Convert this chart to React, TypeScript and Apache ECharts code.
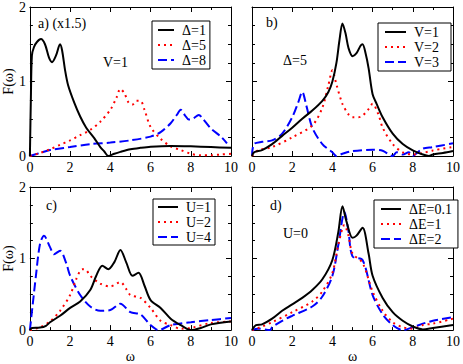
import React, { useEffect, useRef } from "react";
import * as echarts from "echarts";

type P = [number, number];

// Panel a (V=1)
const aDelta1: P[] = [[0,0],[0.05,0.8],[0.1,1.35],[0.2,1.46],[0.35,1.53],[0.55,1.57],[0.75,1.5],[0.95,1.32],[1.1,1.26],[1.3,1.35],[1.5,1.5],[1.6,1.42],[1.75,1.15],[1.9,0.95],[2.2,0.72],[2.5,0.53],[2.8,0.38],[3.2,0.24],[3.5,0.12],[3.7,0.06],[3.9,0],[4.2,0.03],[4.5,0.055],[5,0.09],[5.5,0.11],[6,0.125],[7,0.135],[8,0.13],[9,0.12],[10,0.11]];
const aDelta5: P[] = [[0,0],[0.5,0.04],[1,0.09],[1.5,0.15],[2,0.21],[2.5,0.28],[3,0.35],[3.5,0.46],[4,0.62],[4.3,0.78],[4.5,0.9],[4.7,0.84],[4.9,0.72],[5.1,0.69],[5.3,0.74],[5.5,0.74],[5.7,0.62],[6,0.39],[6.5,0.23],[7,0.13],[7.5,0.08],[8,0.03],[8.5,0.01],[9,0.01],[9.5,0.02],[10,0.03]];
const aDelta8: P[] = [[0,0],[0.5,0.04],[1,0.08],[2,0.12],[3,0.16],[4,0.18],[5,0.21],[6,0.26],[6.5,0.32],[7,0.44],[7.3,0.55],[7.5,0.62],[7.7,0.55],[7.9,0.49],[8.1,0.5],[8.4,0.55],[8.6,0.5],[9,0.37],[9.5,0.26],[9.8,0.17]];

// Panel b (Δ=5)
const bV1: P[] = [[0,0],[0.1,0.05],[0.5,0.08],[1,0.16],[1.5,0.27],[2,0.38],[2.5,0.5],[3,0.61],[3.5,0.74],[3.8,0.86],[4,1.0],[4.2,1.25],[4.35,1.55],[4.5,1.78],[4.65,1.65],[4.8,1.45],[5,1.34],[5.2,1.38],[5.4,1.48],[5.5,1.5],[5.65,1.38],[5.8,1.18],[6,0.83],[6.2,0.7],[6.5,0.52],[7,0.3],[7.5,0.16],[8,0.075],[8.5,0.02],[8.8,0],[9,0.02],[9.5,0.04],[10,0.066]];
const bV2: P[] = [[0,0],[0.3,0.075],[1,0.12],[2,0.25],[3,0.41],[3.5,0.65],[3.8,0.95],[4,1.15],[4.2,0.96],[4.5,0.7],[4.8,0.56],[5,0.52],[5.3,0.52],[5.5,0.54],[5.8,0.63],[6,0.7],[6.3,0.55],[6.5,0.38],[7,0.16],[7.5,0.05],[8,0.02],[8.5,0.04],[9,0.075],[10,0.12]];
const bV3: P[] = [[0,0],[0.1,0.16],[0.5,0.19],[1,0.21],[1.5,0.3],[2,0.52],[2.3,0.72],[2.5,0.86],[2.7,0.68],[3,0.38],[3.5,0.16],[4,0.05],[4.2,0],[4.5,0.03],[5,0.066],[6,0.084],[6.5,0.07],[7,0],[7.2,0.05],[7.5,0.02],[7.8,0.05],[8,0],[8.2,0.04],[8.5,0.1],[9,0.12],[10,0.17]];

// Panel c
const cU1: P[] = [[0,0],[0.1,0.03],[0.5,0.035],[0.8,0.06],[1,0.11],[1.5,0.2],[2,0.31],[2.5,0.4],[3,0.56],[3.3,0.76],[3.6,0.9],[3.9,0.85],[4.2,0.95],[4.5,1.12],[4.8,0.94],[5.1,0.76],[5.4,0.8],[5.7,0.62],[6,0.42],[6.5,0.31],[7,0.16],[7.5,0.07],[8,0],[8.5,0.03],[9,0.08],[10,0.12]];
const cU2: P[] = [[0,0],[0.5,0.04],[1,0.12],[1.5,0.27],[2,0.49],[2.3,0.71],[2.6,0.85],[2.8,0.84],[3,0.76],[3.5,0.65],[4,0.61],[4.5,0.67],[4.8,0.57],[5,0.49],[5.5,0.45],[6,0.31],[6.5,0.13],[7,0.07],[7.5,0.02],[8,0.03],[9,0.1],[10,0.12]];
const cU4: P[] = [[0,0],[0.3,0.76],[0.5,1.2],[0.7,1.32],[1,1.16],[1.2,1.06],[1.5,1.11],[1.8,0.94],[2,0.76],[2.5,0.49],[3,0.33],[3.5,0.27],[4,0.28],[4.5,0.37],[5,0.25],[5.5,0.22],[6,0.07],[6.4,0],[7,0.07],[8,0.11],[9,0.14],[10,0.17]];

// Panel d (U=0)
const dE01: P[] = [[0,0],[0.2,0.07],[0.5,0.08],[1,0.16],[1.5,0.27],[2,0.36],[2.5,0.45],[3,0.56],[3.5,0.71],[4,0.98],[4.3,1.38],[4.5,1.73],[4.7,1.52],[5,1.29],[5.2,1.32],[5.5,1.43],[5.8,1.07],[6,0.76],[6.5,0.45],[7,0.25],[7.5,0.13],[8,0.05],[8.5,0.01],[9,0.03],[10,0.07]];
const dE1: P[] = [[0,0],[0.5,0.05],[1,0.11],[2,0.25],[3,0.4],[3.5,0.54],[4,0.8],[4.3,1.2],[4.6,1.47],[4.8,1.32],[5,1.07],[5.5,0.94],[6,0.54],[6.5,0.27],[7,0.11],[7.5,0.04],[8,0.02],[8.5,0.07],[9,0.09],[10,0.16]];
const dE2: P[] = [[0,0],[0.3,0.02],[0.9,0],[1,0.04],[1.5,0.13],[2,0.2],[3,0.33],[3.5,0.47],[4,0.76],[4.3,1.2],[4.6,1.65],[4.8,1.38],[5,1.03],[5.5,0.98],[6,0.49],[6.5,0.22],[7,0.07],[7.5,0],[8,0.04],[8.5,0.09],[9,0.13],[10,0.18]];

const namesA = ["Δ=1", "Δ=5", "Δ=8"];
const namesB = ["V=1", "V=2", "V=3"];
const namesC = ["U=1", "U=2", "U=4"];
const namesD = ["ΔE=0.1", "ΔE=1", "ΔE=2"];

const FONT = "Liberation Serif";
const FS = 14;

const styles = [
  { color: "#000000", type: "solid" as any },
  { color: "#ff0000", type: [2, 4] as any },
  { color: "#0000ff", type: [9, 4] as any },
];

const grids = [
  { left: 28, top: 7, width: 203, height: 149 },
  { left: 252, top: 7, width: 209, height: 149 },
  { left: 28, top: 187, width: 203, height: 150 },
  { left: 252, top: 187, width: 209, height: 150 },
];

function xAxes(g: number, name: string) {
  const base = {
    type: "value",
    gridIndex: g,
    min: 0,
    max: 10,
    interval: 2,
    axisLine: { show: true, onZero: false, lineStyle: { color: "#000", width: 1 } },
    axisTick: { show: true, inside: true, length: 5, lineStyle: { color: "#000" } },
    minorTick: { show: true, splitNumber: 2, length: 3, lineStyle: { color: "#000" } },
    splitLine: { show: false },
    minorSplitLine: { show: false },
  };
  return [
    {
      ...base,
      position: "bottom",
      axisLabel: { color: "#000", fontSize: FS, fontFamily: FONT, margin: 4 },
      name,
      nameLocation: "middle",
      nameGap: 18,
      nameTextStyle: { color: "#000", fontSize: FS, fontFamily: FONT },
    },
    { ...base, position: "top", axisLabel: { show: false } },
  ];
}

function yAxes(g: number, labels: boolean, name: string) {
  const base = {
    type: "value",
    gridIndex: g,
    min: 0,
    max: 2,
    interval: 1,
    axisLine: { show: true, onZero: false, lineStyle: { color: "#000", width: 1 } },
    axisTick: { show: true, inside: true, length: 5, lineStyle: { color: "#000" } },
    minorTick: { show: true, splitNumber: 4, length: 3, lineStyle: { color: "#000" } },
    splitLine: { show: false },
    minorSplitLine: { show: false },
  };
  return [
    {
      ...base,
      position: "left",
      axisLabel: { show: labels, color: "#000", fontSize: FS, fontFamily: FONT, margin: 4 },
      name,
      nameLocation: "middle",
      nameGap: 12,
      nameTextStyle: { color: "#000", fontSize: FS, fontFamily: FONT },
    },
    { ...base, position: "right", axisLabel: { show: false } },
  ];
}

function legend(names: string[], left: number, top: number, padding: number[], itemWidth: number) {
  return {
    data: names,
    orient: "vertical",
    left,
    top,
    padding,
    itemGap: 1,
    itemWidth,
    itemHeight: 14,
    borderColor: "#000",
    borderWidth: 1,
    borderRadius: 0,
    backgroundColor: "#fff",
    selectedMode: false,
    itemStyle: { opacity: 0, borderWidth: 0 },
    textStyle: { color: "#000", fontSize: FS, fontFamily: FONT, lineHeight: 14, padding: [0, 0, 0, 3] },
  };
}

function text(t: string, x: number, y: number) {
  return {
    type: "text",
    x,
    y,
    style: { text: t, fill: "#000", fontSize: FS, fontFamily: FONT, verticalAlign: "middle" },
  };
}

export default function App() {
  const ref = useRef<HTMLDivElement>(null);
  useEffect(() => {
    if (!ref.current) return;
    const chart = echarts.init(ref.current, undefined, { renderer: "svg" });
    const panels: [string[], P[][]][] = [
      [namesA, [aDelta1, aDelta5, aDelta8]],
      [namesB, [bV1, bV2, bV3]],
      [namesC, [cU1, cU2, cU4]],
      [namesD, [dE01, dE1, dE2]],
    ];
    const series: any[] = [];
    panels.forEach(([names, datas], g) => {
      datas.forEach((d, i) => {
        series.push({
          type: "line",
          name: names[i],
          xAxisIndex: g * 2,
          yAxisIndex: g * 2,
          data: d,
          symbol: "none",
          showSymbol: false,
          smooth: 0.3,
          lineStyle: { color: styles[i].color, width: 2, type: styles[i].type },
          itemStyle: { color: styles[i].color },
          z: 3 - i,
        });
      });
    });
    chart.setOption({
      animation: false,
      backgroundColor: "#fff",
      textStyle: { fontFamily: FONT },
      grid: grids,
      xAxis: [
        ...xAxes(0, ""),
        ...xAxes(1, ""),
        ...xAxes(2, "ω"),
        ...xAxes(3, "ω"),
      ],
      yAxis: [
        ...yAxes(0, true, "F(ω)"),
        ...yAxes(1, false, ""),
        ...yAxes(2, true, "F(ω)"),
        ...yAxes(3, false, ""),
      ],
      legend: [
        legend(namesA, 152, 21, [2, 4, 2, 5], 16),
        legend(namesB, 378, 23, [2, 12, 2, 6], 21),
        legend(namesC, 153, 199, [1, 4, 1, 4], 20),
        legend(namesD, 374, 200, [2, 6, 2, 6], 20),
      ],
      graphic: [
        text("a) (x1.5)", 38, 23),
        text("V=1", 103, 62),
        text("b)", 266, 22),
        text("Δ=5", 283, 60),
        text("c)", 46, 205),
        text("d)", 270, 205),
        text("U=0", 283, 233),
      ],
      series,
    });
    return () => chart.dispose();
  }, []);
  return <div ref={ref} style={{ position: "absolute", left: 0, top: 0, width: 463, height: 364 }} />;
}
